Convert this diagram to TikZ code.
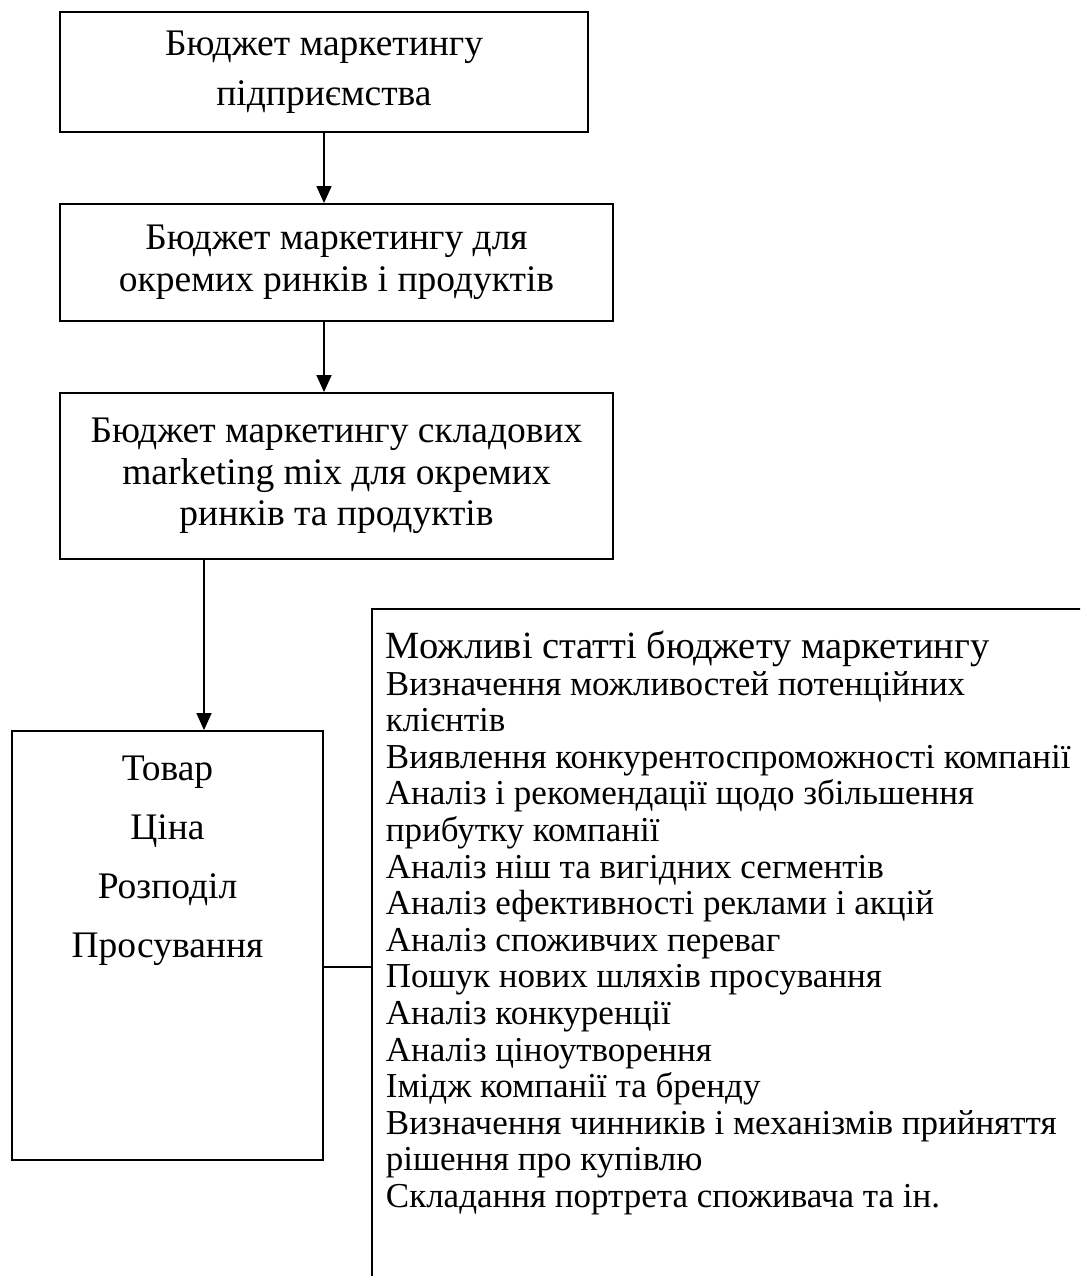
\documentclass[tikz,border=0pt]{standalone}
\usepackage{fontspec}
\setmainfont{Liberation Serif}
\usetikzlibrary{arrows.meta}
\begin{document}
\begin{tikzpicture}[x=1pt,y=-1pt,
  box/.style={draw,line width=1.8pt,inner sep=0pt,align=center,font=\fontsize{37.5}{41.5}\selectfont},
  frame/.style={draw,line width=1.8pt,inner sep=0pt},
  link/.style={line width=1.5pt},
  arr/.style={line width=1.5pt,-{Triangle[width=15pt,length=17pt]}}]
\useasboundingbox (0,0) rectangle (1080,1276);
\clip (0,0) rectangle (1080,1276);
\node[box,minimum width=528pt,minimum height=120pt,font=\fontsize{37.5}{50}\selectfont] (b1) at (324,72) {Бюджет маркетингу\\підприємства};
\node[box,minimum width=553pt,minimum height=117pt] (b2) at (336.5,262.5) {Бюджет маркетингу для\\окремих ринків і продуктів};
\node[box,minimum width=553pt,minimum height=166pt] (b3) at (336.5,476) {Бюджет маркетингу складових\\marketing mix для окремих\\ринків та продуктів};
\node[frame,minimum width=311pt] (b4) at (167.5,945.5) {\parbox[c][429pt][t]{300pt}{\centering\fontsize{37.5}{59}\selectfont\vspace*{25pt}Товар\\Ціна\\Розподіл\\Просування}};
\node[frame,anchor=north west,inner xsep=14pt] (list) at (371,608) {\parbox[t][720pt][t]{740pt}{\raggedright\vspace*{22pt}\fontsize{38.5}{36}\selectfont Можливі статті бюджету маркетингу\\
\fontsize{35}{36.6}\selectfont
Визначення можливостей потенційних\\
клієнтів\\
Виявлення конкурентоспроможності компанії\\
Аналіз і рекомендації щодо збільшення\\
прибутку компанії\\
Аналіз ніш та вигідних сегментів\\
Аналіз ефективності реклами і акцій\\
Аналіз споживчих переваг\\
Пошук нових шляхів просування\\
Аналіз конкуренції\\
Аналіз ціноутворення\\
Імідж компанії та бренду\\
Визначення чинників і механізмів прийняття\\
рішення про купівлю\\
Складання портрета споживача та ін.}};
\coordinate (ax) at (204,0);
\coordinate (cy) at (0,967);
\draw[arr] (b1.south) -- (b1.south |- b2.north);
\draw[arr] (b1.south |- b2.south) -- (b1.south |- b3.north);
\draw[arr] (b3.south -| ax) -- (b4.north -| ax);
\draw[link] (b4.east |- cy) -- (list.west |- cy);
\end{tikzpicture}
\end{document}
